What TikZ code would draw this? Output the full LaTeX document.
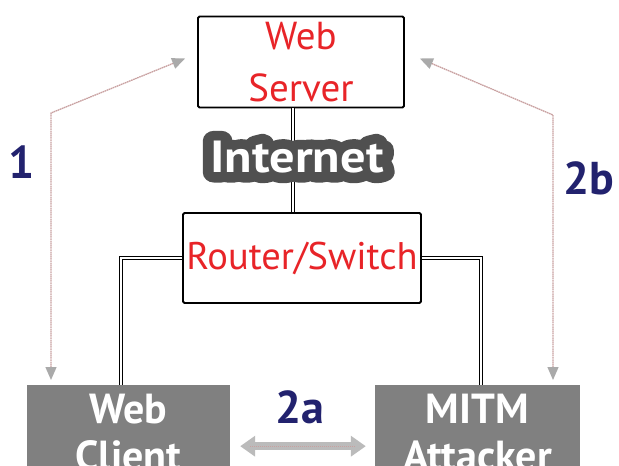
\documentclass[tikz,border=0pt]{standalone}
\usepackage{fontspec}
\setmainfont{PT Sans}
\newfontface\inethalo[FakeBold=45]{PT Sans Bold}
\usetikzlibrary{arrows.meta,calc}

\definecolor{webred}{RGB}{232,36,40}
\definecolor{navy}{RGB}{34,34,110}
\definecolor{hostgray}{RGB}{128,128,128}
\definecolor{halo}{RGB}{80,80,80}
\definecolor{flowline}{RGB}{200,160,160}
\definecolor{tipgray}{RGB}{170,170,170}

\tikzset{
  netbox/.style={draw=black, line width=1.8pt, rounded corners=1.5pt, fill=white,
    text=webred, align=center, inner sep=0pt},
  hostbox/.style={fill=hostgray, draw=none, inner sep=0pt},
  hostlabel/.style={text=white, align=center, inner sep=0pt,
    font=\bfseries\fontsize{42}{47}\selectfont},
  wire/.style={draw=black, line width=1.6pt, double=white, double distance=1.4pt},
  flowboth/.style={draw=flowline, line width=1.3pt, dash pattern=on 1.6pt off 0.6pt,
    {Triangle[length=13pt,width=11pt,fill=tipgray,color=tipgray]}-{Triangle[length=13pt,width=11pt,fill=tipgray,color=tipgray]}},
  steplabel/.style={text=navy, font=\bfseries\fontsize{46}{46}\selectfont, inner sep=0pt},
  inettext/.style={inner sep=0pt, xscale=1.12, transform shape, line join=round}
}

\begin{document}
\begin{tikzpicture}[x=1pt,y=-1pt]
\useasboundingbox (0,0) rectangle (619,466);
\clip (0,0) rectangle (619,466);

% hosts at the bottom edge
\node[hostbox, minimum width=203pt, minimum height=122pt, anchor=north,
  label={[hostlabel, anchor=north, yshift=-9pt]north:{Web\\Client}}]
  (client) at (128.5,385) {};
\node[hostbox, minimum width=205pt, minimum height=122pt, anchor=north,
  label={[hostlabel, anchor=north, yshift=-9pt]north:{MITM\\Attacker}}]
  (attacker) at (477.5,385) {};

% server and router
\node[netbox, minimum width=206pt, minimum height=91pt,
  font=\fontsize{39}{52}\selectfont] (server) at (301,62) {Web\\Server};
\node[netbox, minimum width=238pt, minimum height=90pt,
  font=\fontsize{38.5}{52}\selectfont] (router) at (302,258) {Router/Switch};

% cabling
\draw[wire] ([xshift=-8pt]server.south) -- ([xshift=-8pt]server.south |- router.north);
\draw[wire] (router.west) -| ([xshift=-7.5pt]client.north);
\draw[wire] (router.east) -| ([xshift=3.5pt]attacker.north);

% "Internet" label: stroked dark copy under a white copy
\coordinate (ic) at (297,157);
\node[inettext, text=halo, font=\inethalo\fontsize{45}{45}\selectfont] (inethalo) at (ic) {Internet};
\node[inettext, text=white, font=\bfseries\fontsize{45}{45}\selectfont] (inet) at (ic) {Internet};

% traffic flows
\coordinate (k1) at (51,113);
\coordinate (k2) at (553,115);
\draw[flowboth, shorten >=5pt] ([xshift=-12pt,yshift=3.5pt]server.west) -- (k1) -- (k1 |- client.north);
\draw[flowboth, shorten >=5pt] ([xshift=15pt,yshift=3.5pt]server.east) -- (k2) -- (k2 |- attacker.north);

% client <-> attacker
\draw[draw=tipgray!80, line width=8pt,
  {Triangle[length=15pt,width=20pt,fill=tipgray!80]}-{Triangle[length=15pt,width=20pt,fill=tipgray!80]},
  shorten <=10pt, shorten >=9pt] (client.east) -- (attacker.west);
\draw[flowline, line width=0.8pt, dash pattern=on 1.2pt off 0.8pt,
  shorten <=20pt, shorten >=20pt] (client.east) -- (attacker.west);

% step numbers
\node[steplabel] (s1) at (22,162) {1};
\node[steplabel] (s2b) at (589,178) {2b};
\node[steplabel] (s2a) at (300,407) {2a};
\end{tikzpicture}
\end{document}
